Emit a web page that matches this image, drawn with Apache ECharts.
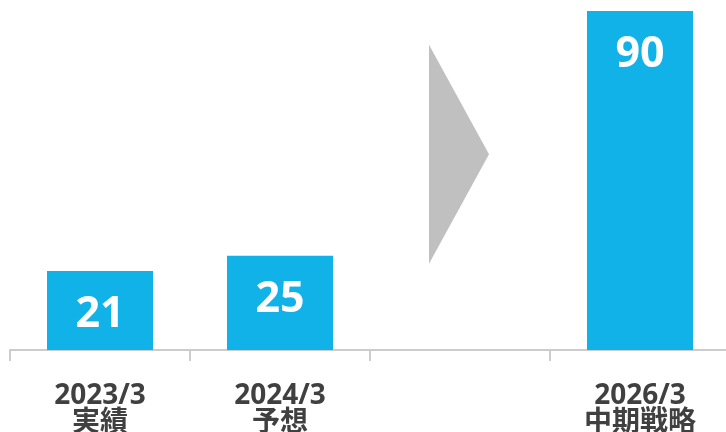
<!DOCTYPE html>
<html>
<head>
<meta charset="utf-8">
<script src="https://cdn.jsdelivr.net/npm/echarts@6/dist/echarts.min.js"></script>
<style>
html,body{margin:0;padding:0;background:#fff;}
#chart{width:726px;height:432px;}
</style>
</head>
<body>
<div id="chart"></div>
<script>
var categories = ['2023/3\n実績', '2024/3\n予想', '', '2026/3\n中期戦略'];
var barValues = [21, 25, '-', 90];
var arrowValues = ['-', '-', 52, '-'];

var FONT = "'Open Sans', 'Noto Sans CJK JP', sans-serif";
var chart = echarts.init(document.getElementById('chart'), null, {renderer: 'canvas'});
chart.setOption({
  animation: false,
  backgroundColor: '#ffffff',
  grid: {left: 10, width: 720, top: 11, bottom: 82, containLabel: false, outerBoundsMode: 'none'},
  xAxis: {
    type: 'category',
    data: categories,
    axisLine: {lineStyle: {color: '#cccccc', width: 2}},
    axisTick: {show: true, length: 11, lineStyle: {color: '#cccccc', width: 2}},
    axisLabel: {
      interval: 0,
      color: '#404040',
      fontFamily: FONT,
      fontWeight: 'bold',
      fontSize: 28,
      lineHeight: 27,
      margin: 33
    }
  },
  yAxis: {
    type: 'value',
    min: 0,
    max: 90,
    show: false,
    splitLine: {show: false}
  },
  series: [
    {
      type: 'bar',
      data: barValues,
      barWidth: 106,
      itemStyle: {color: '#10b2e8'},
      label: {
        show: true,
        position: 'insideTop',
        distance: 22,
        color: '#ffffff',
        fontFamily: FONT,
        fontWeight: 'bold',
        fontSize: 43
      }
    },
    {
      type: 'scatter',
      data: arrowValues,
      symbol: 'path://M0,0L1,0.5L0,1Z',
      symbolSize: [60, 219],
      symbolOffset: [-1, 0],
      itemStyle: {color: '#c0c0c0', opacity: 1},
      silent: true
    }
  ]
});
</script>
</body>
</html>
